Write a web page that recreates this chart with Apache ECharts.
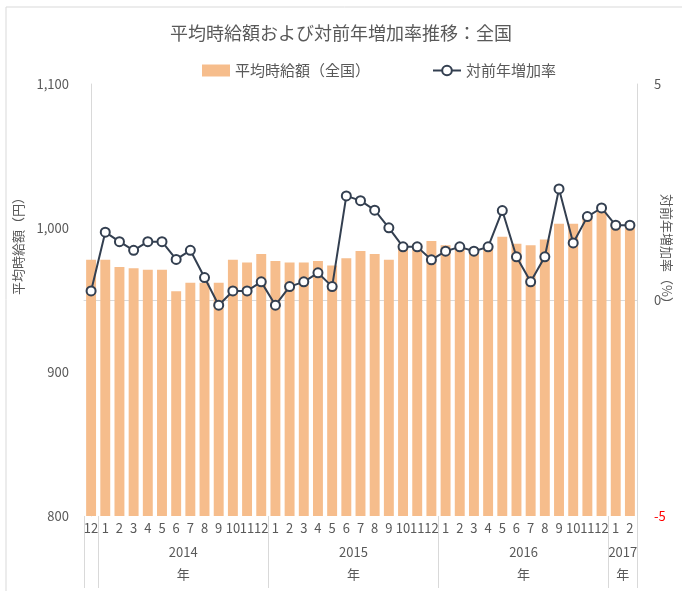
<!DOCTYPE html>
<html>
<head>
<meta charset="utf-8">
<script src="https://cdn.jsdelivr.net/npm/echarts@6/dist/echarts.min.js"></script>
<style>
html,body{margin:0;padding:0;background:#fff;}
#chart{width:682px;height:591px;}
</style>
</head>
<body>
<div id="chart"></div>
<script>
const monthLabels = ['12','1','2','3','4','5','6','7','8','9','10','11','12','1','2','3','4','5','6','7','8','9','10','11','12','1','2','3','4','5','6','7','8','9','10','11','12','1','2'];
const wage = [978,978,973,972,971,971,956,962,962,962,978,976,982,977,976,976,977,974,979,984,982,978,989,989,991,988,986,986,987,994,989,988,992,1003,1003,1008,1012,1004,1004];
const rate = [0.21,1.57,1.35,1.15,1.35,1.35,0.94,1.15,0.52,-0.12,0.21,0.21,0.42,-0.12,0.31,0.42,0.63,0.31,2.41,2.30,2.08,1.67,1.23,1.23,0.93,1.13,1.23,1.13,1.23,2.07,1.00,0.42,1.00,2.57,1.32,1.93,2.13,1.73,1.73];
const yearNames = ['', '2014', '2015', '2016', '2017'];
const yearCounts = [1, 12, 12, 12, 2];
const seriesNames = ['平均時給額（全国）', '対前年増加率'];
const titleText = '平均時給額および対前年増加率推移：全国';
const leftAxisTitle = '平均時給額（円）';
const rightAxisTitle = '対前年増加率（%）';

const FONT = '"Noto Sans CJK JP", "Noto Sans", sans-serif';
const GRAY = '#595959';
const LINEGRAY = '#d9d9d9';

// year group boundaries and centers (in category band units)
const boundaries = [-0.5];
const centers = [];
const centerNames = {};
let acc = -0.5;
yearCounts.forEach((c, i) => {
  const start = acc;
  acc += c;
  boundaries.push(acc);
  if (yearNames[i]) {
    const mid = (start + acc) / 2;
    centers.push(mid);
    centerNames[mid] = yearNames[i];
  }
});

const chart = echarts.init(document.getElementById('chart'), null, {renderer: 'canvas'});
chart.setOption({
  animation: false,
  backgroundColor: '#fff',
  textStyle: {fontFamily: FONT},
  title: {
    text: titleText,
    left: 'center',
    top: 19,
    textStyle: {fontFamily: FONT, fontSize: 18, fontWeight: 'normal', color: GRAY}
  },
  legend: {
    left: 197,
    top: 58,
    itemWidth: 28,
    itemHeight: 12,
    itemGap: 62,
    textStyle: {fontFamily: FONT, fontSize: 15, color: GRAY},
    data: [
      {name: seriesNames[0], icon: 'rect'},
      {name: seriesNames[1]}
    ]
  },
  graphic: [
    {type: 'rect', silent: true, z: -1, shape: {x: 6, y: 7, width: 720, height: 640},
     style: {fill: 'none', stroke: LINEGRAY, lineWidth: 1}},
    {type: 'text', x: 18, y: 243, rotation: Math.PI / 2,
     style: {text: leftAxisTitle, fontFamily: FONT, fontSize: 13, fill: GRAY, align: 'center', verticalAlign: 'middle'}},
    {type: 'text', x: 667, y: 252, rotation: -Math.PI / 2,
     style: {text: rightAxisTitle, fontFamily: FONT, fontSize: 13, fill: GRAY, align: 'center', verticalAlign: 'middle'}}
  ],
  grid: {left: 84, right: 45, top: 84, bottom: 75},
  xAxis: [
    {
      type: 'category',
      data: monthLabels,
      position: 'bottom',
      axisLine: {show: true, lineStyle: {color: LINEGRAY, width: 1}},
      axisTick: {show: false},
      axisLabel: {interval: 0, margin: 6, fontFamily: FONT, fontSize: 13, color: GRAY},
      splitLine: {show: false}
    },
    {
      type: 'value',
      min: -0.5,
      max: 38.5,
      position: 'bottom',
      axisLine: {show: false},
      splitLine: {show: false},
      axisTick: {show: true, customValues: boundaries, length: 72, lineStyle: {color: LINEGRAY, width: 1}},
      axisLabel: {
        show: true,
        customValues: centers,
        margin: 25,
        lineHeight: 22,
        fontFamily: FONT,
        fontSize: 13,
        color: GRAY,
        formatter: function (v) { return (centerNames[v] || '') + '\n年'; }
      }
    }
  ],
  yAxis: [
    {
      type: 'value',
      min: 800,
      max: 1100,
      interval: 100,
      axisLine: {show: true, lineStyle: {color: LINEGRAY}},
      axisTick: {show: false},
      splitLine: {show: false},
      axisLabel: {
        margin: 15,
        fontFamily: FONT,
        fontSize: 13,
        color: GRAY,
        formatter: function (v) { return v.toLocaleString('en-US'); }
      }
    },
    {
      type: 'value',
      min: -5,
      max: 5,
      interval: 5,
      position: 'right',
      axisLine: {show: true, lineStyle: {color: LINEGRAY}},
      axisTick: {show: false},
      splitLine: {show: false},
      axisLabel: {
        margin: 17,
        fontFamily: FONT,
        fontSize: 13,
        color: GRAY,
        formatter: function (v) { return v < 0 ? '{neg|' + v + '}' : String(v); },
        rich: {neg: {color: '#ff0000', fontFamily: FONT, fontSize: 13}}
      }
    }
  ],
  series: [
    {
      name: seriesNames[0],
      type: 'bar',
      xAxisIndex: 0,
      yAxisIndex: 0,
      data: wage,
      barCategoryGap: '30%',
      itemStyle: {color: '#F6BD8C'}
    },
    {
      name: seriesNames[1],
      type: 'line',
      xAxisIndex: 0,
      yAxisIndex: 1,
      data: rate,
      symbol: 'circle',
      symbolSize: 9,
      lineStyle: {color: '#333F50', width: 2},
      itemStyle: {color: '#ffffff', borderColor: '#333F50', borderWidth: 2}
    }
  ]
});
</script>
</body>
</html>
